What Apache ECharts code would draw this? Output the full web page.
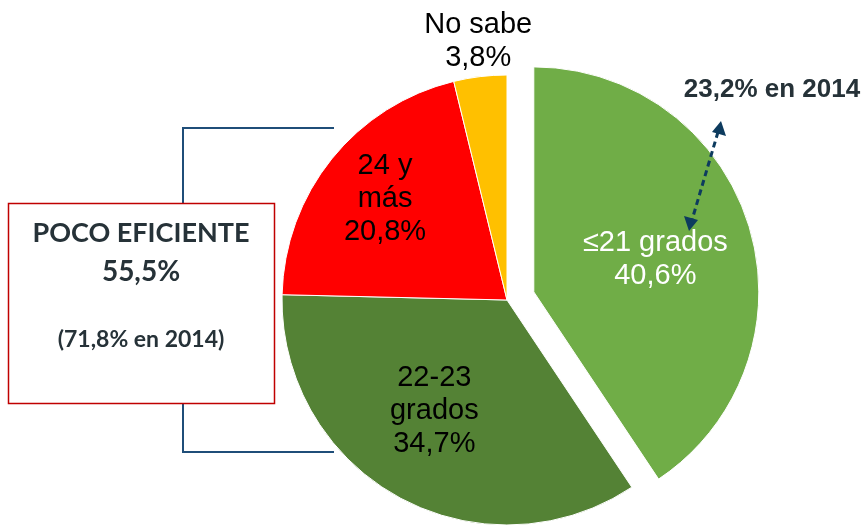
<!DOCTYPE html>
<html>
<head>
<meta charset="utf-8">
<script src="https://cdn.jsdelivr.net/npm/echarts@6/dist/echarts.min.js"></script>
<style>
  html, body { margin: 0; padding: 0; background: #fff; }
  #chart { width: 865px; height: 525px; }
</style>
</head>
<body>
<div id="chart"></div>
<script>
// datos de la tarta (orden horario desde las 12)
var categorias = ['≤21 grados', '22-23\ngrados', '24 y\nmás', 'No sabe'];
var valores = [40.6, 34.7, 20.8, 3.8];
var colores = ['#70AD47', '#548235', '#FF0000', '#FFC000'];
var colorTexto = ['#ffffff', '#000000', '#000000', '#000000'];

// desplazamiento de cada etiqueta respecto a su posición interior
var ajusteEtiqueta = [[11, 1], [-17, 10], [-32, -29], [-15, -144]];

var caja = {
    titulo: 'POCO EFICIENTE',
    valor: '55,5%',
    nota: '(71,8% en 2014)'
};
var nota2014 = '23,2% en 2014';

var fmt = function (v) {
    return v.toFixed(1).replace('.', ',') + '%';
};

var e = echarts.init(document.getElementById('chart'), null, { renderer: 'canvas' });

var datos = [];
for (var i = 0; i < valores.length; i++) {
    datos.push({
        name: categorias[i],
        value: valores[i],
        selected: i === 0,
        itemStyle: { color: colores[i] },
        label: { color: colorTexto[i] }
    });
}

var azul = '#1F4E79';

var option = {
    animation: false,
    backgroundColor: '#ffffff',
    series: [
        {
            type: 'pie',
            center: [507, 300],
            radius: [0, 225],
            startAngle: 90,
            clockwise: true,
            selectedMode: 'single',
            selectedOffset: 28,
            avoidLabelOverlap: false,
            itemStyle: { borderColor: '#ffffff', borderWidth: 1 },
            label: {
                show: true,
                position: 'inside',
                fontFamily: 'Liberation Sans',
                fontSize: 29,
                lineHeight: 33,
                align: 'center',
                formatter: function (p) {
                    return p.name + '\n' + fmt(p.value);
                }
            },
            labelLine: { show: false },
            labelLayout: function (p) {
                var a = ajusteEtiqueta[p.dataIndex];
                return { dx: a[0], dy: a[1] };
            },
            emphasis: { disabled: true },
            data: datos
        }
    ],
    graphic: [
        // corchete
        {
            type: 'polyline', z: 100,
            shape: { points: [[334, 128], [183, 128], [183, 203]] },
            style: { stroke: azul, lineWidth: 2, fill: null }
        },
        {
            type: 'polyline', z: 100,
            shape: { points: [[183, 403], [183, 452], [334, 452]] },
            style: { stroke: azul, lineWidth: 2, fill: null }
        },
        // caja
        {
            type: 'rect', z: 100,
            shape: { x: 8.5, y: 203.5, width: 266, height: 200 },
            style: { fill: '#ffffff', stroke: '#C00000', lineWidth: 1.5 }
        },
        {
            type: 'text', z: 101,
            x: 141, y: 233,
            style: {
                text: caja.titulo, fill: '#263238', align: 'center', verticalAlign: 'middle',
                font: 'bold 27px Lato'
            }
        },
        {
            type: 'text', z: 101,
            x: 141, y: 272,
            style: {
                text: caja.valor, fill: '#263238', align: 'center', verticalAlign: 'middle',
                font: 'bold 28px Lato'
            }
        },
        {
            type: 'text', z: 101,
            x: 141, y: 340,
            style: {
                text: caja.nota, fill: '#263238', align: 'center', verticalAlign: 'middle',
                font: 'bold 23px Lato'
            }
        },
        // flecha discontinua
        {
            type: 'line', z: 100,
            shape: { x1: 718, y1: 132, x2: 692, y2: 220 },
            style: { stroke: '#0D3B5E', lineWidth: 3, lineDash: [6, 4] }
        },
        {
            type: 'polygon', z: 100,
            shape: { points: [[721, 121], [726, 136], [712, 132]] },
            style: { fill: '#0D3B5E' }
        },
        {
            type: 'polygon', z: 100,
            shape: { points: [[689, 231], [684, 216], [698, 220]] },
            style: { fill: '#0D3B5E' }
        },
        {
            type: 'text', z: 100,
            x: 772, y: 90,
            style: {
                text: nota2014, fill: '#263238', align: 'center', verticalAlign: 'middle',
                font: 'bold 26px "Liberation Sans"'
            }
        }
    ]
};

e.setOption(option);
</script>
</body>
</html>
